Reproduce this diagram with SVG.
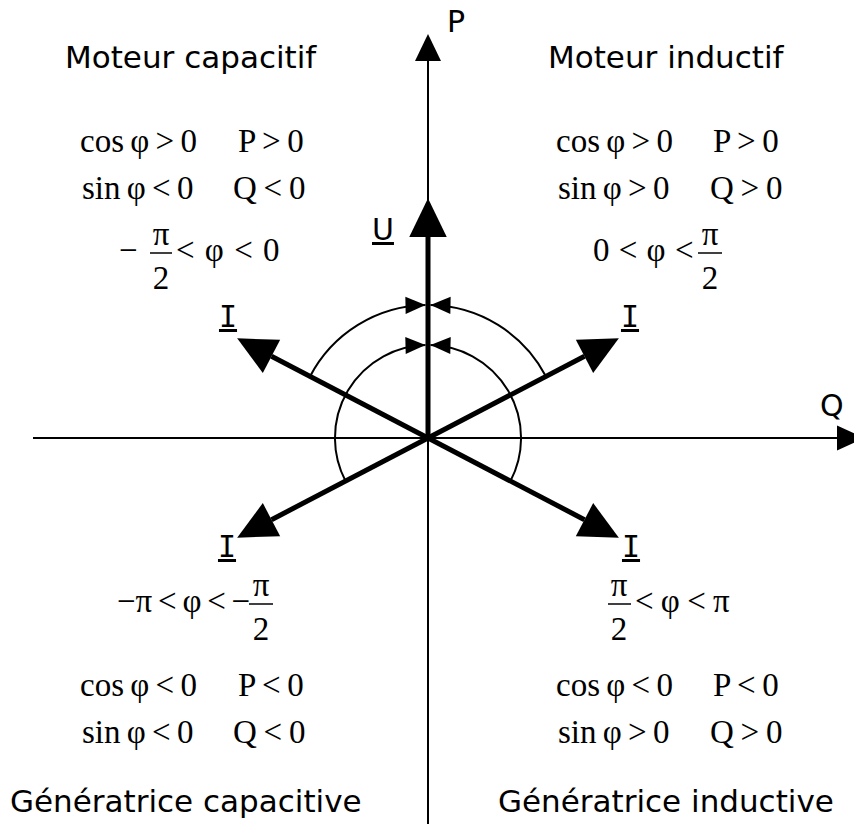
<svg xmlns="http://www.w3.org/2000/svg" width="854" height="824" viewBox="0 0 854 824">
<style>
.sans{font-family:"DejaVu Sans","Verdana",sans-serif;font-size:31px;fill:#000}
.lbl{font-family:"DejaVu Sans","Verdana",sans-serif;font-size:30px;fill:#000}
.ilbl{font-family:"DejaVu Sans Mono",monospace;font-size:30px;fill:#000;text-decoration:underline}
.m{font-family:"Liberation Serif","Times New Roman",serif;font-size:33px;fill:#000}
.eq{word-spacing:-2px}
.pq{word-spacing:-1.5px}
.ax{stroke:#000;stroke-width:2;fill:none}
.vec{stroke:#000;stroke-width:5;fill:none;marker-end:url(#big)}
.arc{stroke:#000;stroke-width:2;fill:none;marker-end:url(#small)}
.bar{stroke:#000;stroke-width:1.5}
</style>
<defs>
<marker id="big" markerUnits="userSpaceOnUse" markerWidth="40" markerHeight="40" viewBox="0 -16 32 32" refX="0" refY="0" orient="auto" overflow="visible">
<path d="M0,-15 L31,0 L0,15 z" fill="#000"/>
</marker>
<marker id="small" markerUnits="userSpaceOnUse" markerWidth="20" markerHeight="20" viewBox="-14 -7 14 14" refX="0" refY="0" orient="auto" overflow="visible">
<path d="M-14,-6 L0,0 L-14,6 z" fill="#000"/>
</marker>
</defs>

<g id="axes">
<line class="ax" x1="428" y1="824" x2="428" y2="58"/>
<path d="M428,34 L415,61 L441,61 z" fill="#000"/>
<line class="ax" x1="33" y1="438" x2="840" y2="438"/>
<path d="M864,438 L837,425.5 L837,450.5 z" fill="#000"/>
<text class="lbl" x="447" y="32">P</text>
<text class="lbl" x="820" y="416">Q</text>
</g>

<g id="connectors">
<line class="vec" x1="428" y1="438" x2="428" y2="237"/>
<line class="vec" x1="428" y1="438" x2="584.5" y2="356.3"/>
<line class="vec" x1="428" y1="438" x2="271.5" y2="356.3"/>
<line class="vec" x1="428" y1="438" x2="271.5" y2="519.7"/>
<line class="vec" x1="428" y1="438" x2="584.5" y2="519.7"/>
<path class="arc" d="M310,376.5 A133,133 0 0 1 425.5,305"/>
<path class="arc" d="M546,376.5 A133,133 0 0 0 430.5,305"/>
<path class="arc" d="M345.5,481 A93,93 0 0 1 425.5,345"/>
<path class="arc" d="M510.5,481 A93,93 0 0 0 430.5,345"/>
</g>

<g id="vector-labels">
<text class="lbl" x="372" y="240" text-decoration="underline">U</text>
<text class="ilbl" x="228" y="327" text-anchor="middle">I</text>
<text class="ilbl" x="630" y="327" text-anchor="middle">I</text>
<text class="ilbl" x="227" y="557" text-anchor="middle">I</text>
<text class="ilbl" x="631" y="557" text-anchor="middle">I</text>
</g>

<g id="moteur-capacitif">
<text class="sans" x="65" y="68">Moteur capacitif</text>
<text class="m eq" x="80" y="152">cos φ &gt; 0</text>
<text class="m pq" x="238" y="152">P &gt; 0</text>
<text class="m eq" x="82" y="199">sin φ &lt; 0</text>
<text class="m pq" x="233" y="199">Q &lt; 0</text>
<text class="m" x="119" y="261">−</text>
<text class="m" x="161" y="245" text-anchor="middle">π</text>
<line class="bar" x1="150" y1="253" x2="172" y2="253"/>
<text class="m" x="161" y="289" text-anchor="middle">2</text>
<text class="m" x="176" y="261" word-spacing="2">&lt; φ &lt; 0</text>
</g>

<g id="moteur-inductif">
<text class="sans" x="548" y="68">Moteur inductif</text>
<text class="m eq" x="556" y="152">cos φ &gt; 0</text>
<text class="m pq" x="713" y="152">P &gt; 0</text>
<text class="m eq" x="558" y="199">sin φ &gt; 0</text>
<text class="m pq" x="710" y="199">Q &gt; 0</text>
<text class="m" x="593" y="261" word-spacing="1">0 &lt; φ &lt;</text>
<text class="m" x="710" y="245" text-anchor="middle">π</text>
<line class="bar" x1="698" y1="253" x2="722" y2="253"/>
<text class="m" x="710" y="289" text-anchor="middle">2</text>
</g>

<g id="generatrice-capacitive">
<text class="m" x="117" y="612" word-spacing="-2.5">−π &lt; φ &lt; −</text>
<text class="m" x="261" y="596" text-anchor="middle">π</text>
<line class="bar" x1="249" y1="604" x2="273" y2="604"/>
<text class="m" x="261" y="640" text-anchor="middle">2</text>
<text class="m eq" x="80" y="696">cos φ &lt; 0</text>
<text class="m pq" x="238" y="696">P &lt; 0</text>
<text class="m eq" x="82" y="743">sin φ &lt; 0</text>
<text class="m pq" x="233" y="743">Q &lt; 0</text>
<text class="sans" x="10" y="812">Génératrice capacitive</text>
</g>

<g id="generatrice-inductive">
<text class="m" x="619" y="596" text-anchor="middle">π</text>
<line class="bar" x1="608" y1="604" x2="631" y2="604"/>
<text class="m" x="619" y="640" text-anchor="middle">2</text>
<text class="m" x="635" y="612" word-spacing="-1">&lt; φ &lt; π</text>
<text class="m eq" x="556" y="696">cos φ &lt; 0</text>
<text class="m pq" x="713" y="696">P &lt; 0</text>
<text class="m eq" x="558" y="743">sin φ &gt; 0</text>
<text class="m pq" x="710" y="743">Q &gt; 0</text>
<text class="sans" x="498" y="812">Génératrice inductive</text>
</g>
</svg>
